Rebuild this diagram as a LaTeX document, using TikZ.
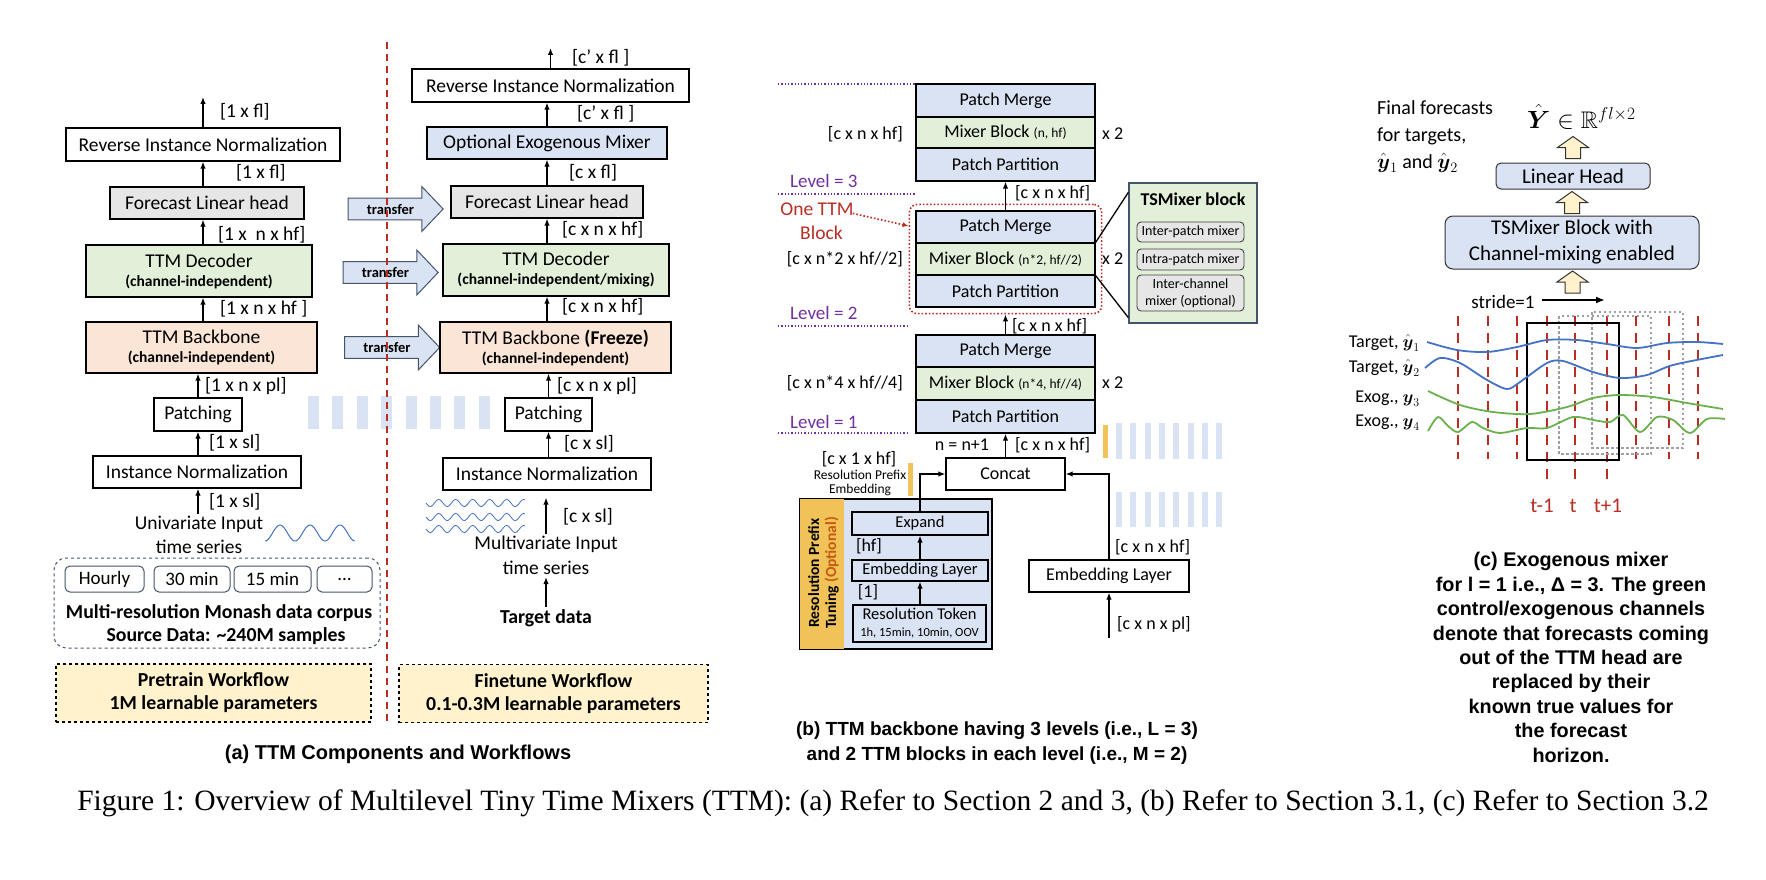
\documentclass[tikz,border=0pt]{standalone}
\usepackage{amsmath,amssymb}
\usepackage{fontspec}
\setmainfont{Carlito}
\newfontfamily\capfont{Liberation Sans}
\newfontfamily\figfont{Liberation Serif}
\usetikzlibrary{arrows.meta,shapes.arrows,fit,calc}

\newcommand{\fsz}[2]{\fontsize{#1}{#2}\selectfont}

\definecolor{ttmblue}{RGB}{218,227,243}
\definecolor{ttmgreen}{RGB}{226,240,217}
\definecolor{ttmpeach}{RGB}{251,229,214}
\definecolor{ttmgray}{RGB}{231,230,230}
\definecolor{ttmyellow}{RGB}{255,242,204}
\definecolor{ttmgold}{RGB}{240,194,88}
\definecolor{ttmred}{RGB}{185,45,35}
\definecolor{ttmpurple}{RGB}{112,48,160}
\definecolor{ttmslate}{RGB}{68,84,106}
\definecolor{ttmorange}{RGB}{197,90,17}
\definecolor{wblue}{RGB}{68,114,196}
\definecolor{wgreen}{RGB}{106,176,76}

\begin{document}
\begin{tikzpicture}[x=1pt,y=-1pt,
  ttmbox/.style={draw, line width=1.3pt, inner sep=0pt, align=center, font=\fsz{19.5}{21}},
  stk/.style={ttmbox, minimum width=179pt, font=\fsz{18}{20}},
  lbl/.style={anchor=west, inner sep=0pt, font=\fsz{19.5}{22}},
  lblb/.style={lbl, font=\fsz{18}{20}},
  conn/.style={-{Latex[length=7pt,width=5.5pt]}, line width=1.3pt},
  xfer/.style={single arrow, draw=ttmslate, fill=ttmblue, line width=1pt,
    minimum height=95pt, minimum width=44pt, single arrow head extend=11.5pt,
    single arrow tip angle=93, inner xsep=2pt, inner ysep=5.3pt,
    text height=10pt, text depth=0pt, font=\fsz{14.5}{16}\bfseries},
  upfill/.style={draw=black!80, fill=ttmyellow, line width=1pt, line join=miter},
  chip/.style={draw=ttmslate, line width=1pt, rounded corners=5pt, minimum height=26pt,
    font=\fsz{19}{21}, inner sep=0pt},
  wflow/.style={draw, dashed, line width=1.5pt, fill=ttmyellow, align=center,
    minimum height=58pt, font=\fsz{19.8}{23}\bfseries, inner sep=0pt},
  lvl/.style={lbl, text=ttmpurple, font=\fsz{19}{21}},
  lvline/.style={ttmpurple, line width=1.3pt, dotted},
  tdash/.style={ttmred, line width=2.6pt, dash pattern=on 10pt off 7pt},
  capt/.style={font=\capfont\bfseries\fsz{19}{24.4}, align=center, inner sep=0pt}
]
\useasboundingbox (0,0) rectangle (1766,880);

% (a) pretrain column
\node[ttmbox, fill=white, minimum width=274pt, minimum height=33pt] (rinL) at (203,144.5) {Reverse Instance Normalization};
\node[ttmbox, fill=ttmgray, minimum width=194pt, minimum height=32pt] (flhL) at (207,203) {Forecast Linear head};
\node[ttmbox, fill=ttmgreen, minimum width=226pt, minimum height=52pt] (decL) at (199,271) {TTM Decoder\\[-2pt]{\fsz{15.5}{16}\bfseries (channel-independent)}};
\node[ttmbox, fill=ttmpeach, minimum width=231pt, minimum height=51pt] (bbL) at (201.5,347.5) {TTM Backbone\\[-2pt]{\fsz{15.5}{16}\bfseries (channel-independent)}};
\node[ttmbox, minimum width=88pt, minimum height=33pt] (patL) at (198,414.5) {Patching};
\node[ttmbox, minimum width=208pt, minimum height=32pt] (inL) at (197,472) {Instance Normalization};
\node[align=center, inner sep=2pt, font=\fsz{19.5}{24}] (uniL) at (199,535) {Univariate Input\\time series};
\coordinate (outL) at (203,97);

\draw[conn] (rinL.north) -- (outL);
\draw[conn] (flhL.north -| rinL.north) -- (rinL.south);
\draw[conn] (decL.north -| rinL.north) -- (flhL.south -| rinL.north);
\draw[conn] (bbL.north -| rinL.north) -- (decL.south -| rinL.north);
\draw[conn] (patL.north) -- (bbL.south -| patL.north);
\draw[conn] (inL.north -| patL.north) -- (patL.south);
\draw[conn] (uniL.north -| patL.north) -- (inL.south -| patL.north);

\node[lbl] (lL1) at (220,112) {[1 x fl]};
\node[lbl] (lL2) at (236,173) {[1 x fl]};
\node[lbl] (lL3) at (218,235) {[1 x\ \ n x hf]};
\node[lbl] (lL4) at (220,309) {[1 x n x hf ]};
\node[lbl] (lL5) at (205,386) {[1 x n x pl]};
\node[lbl] (lL6) at (209,443) {[1 x sl]};
\node[lbl] (lL7) at (209,502) {[1 x sl]};

\draw[wblue, line width=1pt, domain=265:355, samples=90] plot (\x,{533+8*sin(12*(\x-265)+90)});

% data corpus
\node[draw=ttmslate, dashed, line width=1pt, rounded corners=12pt, minimum width=326pt, minimum height=90pt] (corpus) at (217,603) {};
\node[chip, minimum width=79pt] (hourly) at (104.5,579) {Hourly};
\node[chip, minimum width=76pt] (m30) at (192,579) {30 min};
\node[chip, minimum width=77pt] (m15) at (272.5,579) {15 min};
\node[chip, minimum width=55pt] (more) at (344.5,579) {...};
\node[font=\fsz{19.8}{22}\bfseries, inner sep=0pt] (crp1) at (219,613) {Multi-resolution Monash data corpus};
\node[font=\fsz{19.8}{22}\bfseries, inner sep=0pt] (crp2) at (226,636) {Source Data: \textasciitilde 240M samples};

\node[wflow, minimum width=315pt] (pretrain) at (213.5,693) {Pretrain Workflow\\1M learnable parameters};

% transfer arrows and gap bars
\node[xfer] (tr1) at (390.5,209) {transfer};
\node[xfer] (tr2) at (385.5,272.5) {transfer};
\node[xfer] (tr3) at (387,347.5) {transfer};
\foreach \i in {0,...,7}
  \fill[ttmblue] ({308+24.4*\i},396) rectangle +(11,33);

% (a) finetune column
\node[ttmbox, fill=white, minimum width=277pt, minimum height=33pt] (rinR) at (550.5,85.5) {Reverse Instance Normalization};
\node[ttmbox, fill=ttmblue, minimum width=240pt, minimum height=32pt] (exoR) at (547,143) {Optional Exogenous Mixer};
\node[ttmbox, fill=ttmgray, minimum width=192pt, minimum height=32pt] (flhR) at (547,202) {Forecast Linear head};
\node[ttmbox, fill=ttmgreen, minimum width=226pt, minimum height=52pt] (decR) at (556,270) {TTM Decoder\\[-2pt]{\fsz{15.5}{16}\bfseries (channel-independent/mixing)}};
\node[ttmbox, fill=ttmpeach, minimum width=231pt, minimum height=51pt] (bbR) at (555.5,347.5) {TTM Backbone \textbf{(Freeze)}\\[-2pt]{\fsz{15.5}{16}\bfseries (channel-independent)}};
\node[ttmbox, minimum width=87pt, minimum height=33pt] (patR) at (548.5,414.5) {Patching};
\node[ttmbox, minimum width=208pt, minimum height=32pt] (inR) at (547,474) {Instance Normalization};
\node[align=center, inner sep=2pt, font=\fsz{19.5}{25}] (mulR) at (546,555.5) {Multivariate Input\\time series};
\node[font=\fsz{19.8}{22}\bfseries, inner sep=2pt] (tgtR) at (546,618) {Target data};
\coordinate (outR) at (550.5,48);

\draw[conn] (rinR.north) -- (outR);
\draw[conn] (exoR.north) -- (exoR.north |- rinR.south);
\draw[conn] (flhR.north) -- (flhR.north |- exoR.south);
\draw[conn] (decR.north -| flhR.north) -- (flhR.south);
\draw[conn] (bbR.north -| flhR.north) -- (decR.south -| flhR.north);
\draw[conn] (patR.north) -- (patR.north |- bbR.south);
\draw[conn] (inR.north -| patR.north) -- (patR.south);
\draw[conn, shorten >=7pt] (mulR.north) -- (inR.south -| mulR.north);
\draw[conn] (tgtR.north) -- (mulR.south);

\node[lbl] (lR1) at (572,58) {[c’ x fl ]};
\node[lbl] (lR2) at (577,114) {[c’ x fl ]};
\node[lbl] (lR3) at (569,173) {[c x fl]};
\node[lbl] (lR4) at (562,230) {[c x n x hf]};
\node[lbl] (lR5) at (562,307) {[c x n x hf]};
\node[lbl] (lR6) at (557,386) {[c x n x pl]};
\node[lbl] (lR7) at (564,444) {[c x sl]};
\node[lbl] (lR8) at (563,517) {[c x sl]};

\foreach \yy in {503,517,529}
  \draw[wblue, line width=0.8pt, domain=426:525, samples=100] plot (\x,{\yy+3.5*sin(21.2*(\x-426))});

\node[wflow, minimum width=309pt] (finetune) at (553.5,693.5) {Finetune Workflow\\0.1-0.3M learnable parameters};

% workflow divider
\draw[ttmred, line width=1.5pt, dash pattern=on 7pt off 5pt] (387,42) -- (387,722);

% (b) levels
\draw[lvline] (778,84) -- (915,84);
\draw[lvline] (778,194) -- (915,194);
\draw[lvline] (778,326) -- (910,326);
\draw[lvline] (778,433) -- (910,433);
\node[lvl] (lv3) at (790,181) {Level = 3};
\node[lvl] (lv2) at (790,313) {Level = 2};
\node[lvl] (lv1) at (790,422) {Level = 1};

\node[stk, fill=ttmblue, minimum height=33pt] (PM1) at (1005.5,100.5) {Patch Merge};
\node[stk, fill=ttmgreen, minimum height=31pt] (MB1) at (1005.5,132.5) {Mixer Block {\fsz{13.5}{14}(n, hf)}};
\node[stk, fill=ttmblue, minimum height=33pt] (PP1) at (1005.5,164.5) {Patch Partition};
\node[stk, fill=ttmblue, minimum height=32pt] (PM2) at (1005.5,227) {Patch Merge};
\node[stk, fill=ttmgreen, minimum height=32pt] (MB2) at (1005.5,259) {Mixer Block {\fsz{13.5}{14}(n*2, hf//2)}};
\node[stk, fill=ttmblue, minimum height=32pt] (PP2) at (1005.5,291) {Patch Partition};
\node[stk, fill=ttmblue, minimum height=32pt] (PM3) at (1005.5,351) {Patch Merge};
\node[stk, fill=ttmgreen, minimum height=33pt] (MB3) at (1005.5,383.5) {Mixer Block {\fsz{13.5}{14}(n*4, hf//4)}};
\node[stk, fill=ttmblue, minimum height=33pt] (PP3) at (1005.5,416.5) {Patch Partition};

\node[lblb, anchor=east] (dim1) at (903,134) {[c x n x hf]};
\node[lblb, anchor=east] (dim2) at (903,259) {[c x n*2 x hf//2]};
\node[lblb, anchor=east] (dim3) at (903,383) {[c x n*4 x hf//4]};
\node[lblb] (rep1) at (1102,134) {x 2};
\node[lblb] (rep2) at (1102,259) {x 2};
\node[lblb] (rep3) at (1102,383) {x 2};

\node[draw=ttmred, dotted, line width=1.6pt, rounded corners=8pt, inner xsep=6pt, inner ysep=6pt, fit=(PM2)(PP2)] (blk2) {};
\node[align=center, text=ttmred, font=\fsz{19.5}{24}, inner sep=1pt] (onettm) at (817,221) {One TTM\\\ \ Block};
\draw[ttmred, dotted, line width=1.6pt, -{Latex[length=6pt,width=5pt]}] ($(onettm.north east)+(-2,12)$) -- (blk2.west |- 0,226);

% TSMixer zoom-in
\node[draw=ttmslate, fill=ttmgreen, line width=1.3pt, minimum width=128pt, minimum height=140pt] (tsm) at (1193,253) {};
\node[font=\fsz{18}{20}\bfseries, inner sep=0pt] (tsmt) at (1193,199) {TSMixer block};
\node[draw=black!75, fill=ttmgray, line width=0.9pt, rounded corners=4pt, minimum width=107pt, minimum height=20pt, inner sep=0pt, font=\fsz{14}{16}] (mx1) at (1190.5,232) {Inter-patch mixer};
\node[draw=black!75, fill=ttmgray, line width=0.9pt, rounded corners=4pt, minimum width=107pt, minimum height=21pt, inner sep=0pt, font=\fsz{14}{16}] (mx2) at (1190.5,259.5) {Intra-patch mixer};
\node[draw=black!75, fill=ttmgray, line width=0.9pt, rounded corners=4pt, minimum width=107pt, minimum height=36pt, inner sep=0pt, align=center, font=\fsz{14}{17}] (mx3) at (1190.5,293) {Inter-channel\\mixer (optional)};
\draw[line width=1.3pt] (MB2.north east) -- ($(tsm.north west)+(0,10)$);
\draw[line width=1.3pt] (MB2.south east) -- ($(tsm.south west)+(0,-6)$);

\draw[conn] (PM2.north) -- (PP1.south);
\draw[conn] (PM3.north) -- (blk2.south -| PM3.north);
\node[lblb] (dim4) at (1015,193) {[c x n x hf]};
\node[lblb] (dim5) at (1012,326) {[c x n x hf]};

% input embedding and resolution prefix
\node[ttmbox, minimum width=119pt, minimum height=32pt, font=\fsz{18}{20}] (concat) at (1005.5,474) {Concat};
\draw[conn] (concat.north) -- (PP3.south);
\node[lblb, anchor=center] (nn) at (962,445) {n = n+1};
\node[lblb] (dim6) at (1015,445) {[c x n x hf]};

\fill[ttmgold] (1103,425) rectangle (1108,458);
\foreach \i in {0,...,7} {
  \fill[ttmblue] ({1116+14.3*\i},423) rectangle +(6,36);
  \fill[ttmblue] ({1116+14.3*\i},492) rectangle +(6,35);
}

\node[lblb, anchor=center] (dim7) at (859,459) {[c x 1 x hf]};
\node[align=center, font=\fsz{13.5}{14.5}, inner sep=0pt] (rpe) at (860,483) {Resolution Prefix\\Embedding};
\fill[ttmgold] (908,463) rectangle (913,496);

\node[draw, line width=1.3pt, fill=ttmblue, minimum width=192pt, minimum height=150pt, inner sep=0pt] (rpbox) at (896,574) {};
\fill[ttmgold] (rpbox.north west) rectangle ($(rpbox.south west)+(45,0)$);
\draw[line width=1.3pt] (rpbox.north west) rectangle (rpbox.south east);
\node[rotate=90, align=center, font=\fsz{15.5}{17}\bfseries, inner sep=0pt] (rpt) at (823.5,573) {Resolution Prefix\\Tuning \textcolor{ttmorange}{(Optional)}};
\node[ttmbox, fill=ttmblue, minimum width=136pt, minimum height=23pt, font=\fsz{16.5}{18}] (expand) at (920,523.5) {Expand};
\node[ttmbox, fill=ttmblue, minimum width=136pt, minimum height=21pt, font=\fsz{16.5}{18}] (embP) at (920,570.5) {Embedding Layer};
\node[ttmbox, fill=ttmblue, minimum width=133pt, minimum height=37pt, font=\fsz{16.5}{17}] (restok) at (919.5,623.5) {Resolution Token\\{\fsz{12.5}{13}1h, 15min, 10min, OOV}};
\node[lblb, anchor=center] (dim8) at (869,546) {[hf]};
\node[lblb, anchor=center] (dim9) at (868,592) {[1]};
\draw[conn] (restok.north -| expand.north) -- (embP.south);
\draw[conn] (embP.north) -- (expand.south);
\draw[conn] (expand.north) |- (concat.west);

\node[ttmbox, minimum width=160pt, minimum height=32pt, font=\fsz{18}{20}] (embR) at (1109,576) {Embedding Layer};
\coordinate (inB) at (1109,638);
\draw[conn] (embR.north) |- (concat.east);
\draw[conn] (inB) -- (embR.south);
\node[lblb] (dim10) at (1115,547) {[c x n x hf]};
\node[lblb] (dim11) at (1117,624) {[c x n x pl]};

% (c) exogenous mixer
\node[anchor=north west, align=left, font=\fsz{20}{27}, inner sep=0pt] (fin) at (1377,100) {Final forecasts\\for targets,\\$\hat{\boldsymbol{y}}_1$ and $\hat{\boldsymbol{y}}_2$};
\node[anchor=west, font=\fsz{24}{26}, inner sep=0pt] (yhat) at (1527,117) {$\hat{\boldsymbol{Y}}\in\mathbb{R}^{fl\times 2}$};
\node[draw=black!80, fill=ttmblue, line width=1pt, rounded corners=5pt, minimum width=154pt, minimum height=26pt, inner sep=0pt, font=\fsz{21}{23}] (linh) at (1573,176) {Linear Head};
\node[draw=black!80, fill=ttmblue, line width=1pt, rounded corners=8pt, minimum width=254pt, minimum height=53pt, inner sep=0pt, align=center, font=\fsz{21}{26}] (tsmb) at (1572,242.5) {TSMixer Block with\\Channel-mixing enabled};
\coordinate (ub1) at ($(linh.north)+(0,-4)$);
\coordinate (ub2) at ($(tsmb.north)+(0,-2)$);
\coordinate (ub3) at (1572.5,293);
\foreach \b in {ub1,ub2,ub3}
  \filldraw[upfill] ($(\b)+(-7.5,0)$) -- ++(0,-11) -- ++(-8,0) -- ++(15.5,-11) -- ++(15.5,11) -- ++(-8,0) -- ++(0,11) -- cycle;

\node[font=\fsz{19}{21}, inner sep=0pt] (strd) at (1503,302) {stride=1};
\coordinate (strdE) at (1605,300);
\draw[-{Latex[length=9pt,width=7pt]}, line width=2pt, shorten <=7pt] (strd.east |- strdE) -- (strdE);

\foreach \xx in {1458,1488,1517,1636,1669,1698}
  \draw[tdash] (\xx,316) -- (\xx,459);
\foreach \xx in {1547,1575,1607}
  \draw[tdash] (\xx,316) -- (\xx,485);

\draw[gray!75, line width=2pt, dash pattern=on 2.5pt off 2.5pt] (1592,312) rectangle (1683,448);
\draw[gray!75, line width=2pt, dash pattern=on 2.5pt off 2.5pt] (1559,316) rectangle (1651,454);
\draw[line width=2.3pt] (1527,323) rectangle (1619,460);

\draw[wblue, line width=1.8pt] plot[smooth] coordinates {(1427,342) (1457,350) (1487,352) (1517,347) (1547,340) (1577,340) (1607,344) (1637,348) (1667,343) (1697,342) (1723,344)};
\draw[wblue, line width=1.8pt] plot[smooth] coordinates {(1425,368) (1440,358) (1460,363) (1487,380) (1507,389) (1520,382) (1547,363) (1563,361) (1593,372) (1620,378) (1647,375) (1673,365) (1723,355)};
\draw[wgreen, line width=1.8pt] plot[smooth] coordinates {(1428,391) (1460,405) (1493,412) (1530,414) (1567,407) (1593,398) (1620,395) (1653,397) (1687,403) (1723,409)};
\draw[wgreen, line width=1.8pt] plot[smooth] coordinates {(1428,431) (1438,417) (1448,426) (1458,432) (1472,422) (1483,428) (1500,433) (1527,428) (1547,428) (1573,417) (1593,420) (1610,422) (1623,415) (1640,432) (1657,417) (1673,420) (1690,433) (1707,419) (1725,419)};

\node[anchor=east, font=\fsz{18}{20}, inner sep=0pt] (tg1) at (1420,343) {Target, $\hat{\boldsymbol{y}}_1$};
\node[anchor=east, font=\fsz{18}{20}, inner sep=0pt] (tg2) at (1420,368) {Target, $\hat{\boldsymbol{y}}_2$};
\node[anchor=east, font=\fsz{18}{20}, inner sep=0pt] (ex3) at (1420,399) {Exog., $\boldsymbol{y}_3$};
\node[anchor=east, font=\fsz{18}{20}, inner sep=0pt] (ex4) at (1420,423) {Exog., $\boldsymbol{y}_4$};

\node[text=ttmred, font=\fsz{21}{24}, inner sep=0pt] (tm1) at (1542,506) {t-1};
\node[text=ttmred, font=\fsz{21}{24}, inner sep=0pt] (tm0) at (1573,506) {t};
\node[text=ttmred, font=\fsz{21}{24}, inner sep=0pt] (tp1) at (1608,506) {t+1};

% captions
\node[capt, font=\capfont\bfseries\fsz{20}{24}] (capa) at (398,754) {(a) TTM Components and Workflows};
\node[capt] (capb) at (997,743) {(b) TTM backbone having 3 levels (i.e., L = 3)\\and 2 TTM blocks in each level (i.e., M = 2)};
\node[capt, font=\capfont\bfseries\fsz{19.8}{24.4}] (capc) at (1571,657.5) {(c) Exogenous mixer\\for l = 1 i.e., Δ = 3. The green\\control/exogenous channels\\denote that forecasts coming\\out of the TTM head are\\replaced by their\\known true values for\\the forecast\\horizon.};
\node[font=\figfont\fsz{29.5}{32}, inner sep=0pt] (figcap) at (893,803) {Figure 1: Overview of Multilevel Tiny Time Mixers (TTM): (a) Refer to Section 2 and 3, (b) Refer to Section 3.1, (c) Refer to Section 3.2};
\end{tikzpicture}
\end{document}
